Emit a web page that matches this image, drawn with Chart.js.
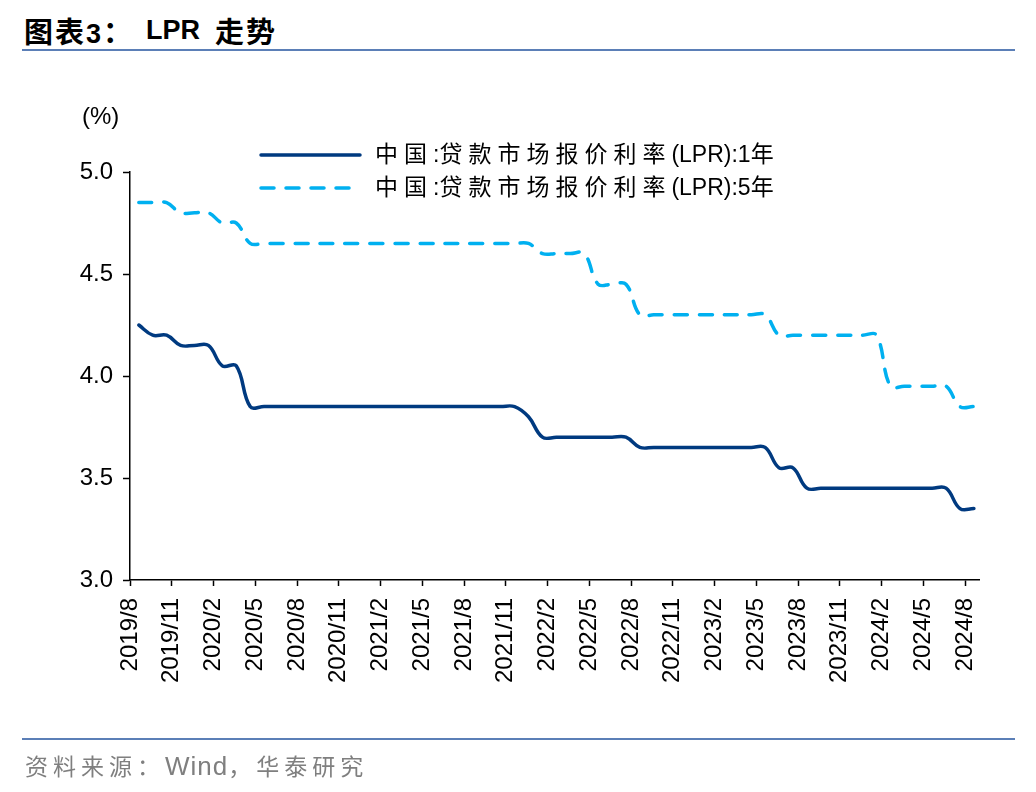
<!DOCTYPE html>
<html><head><meta charset="utf-8">
<script src="https://cdn.jsdelivr.net/npm/chart.js@4.4.1/dist/chart.umd.min.js"></script>
<style>
html,body{margin:0;padding:0;background:#fff;}
#wrap{position:relative;width:1036px;height:792px;overflow:hidden;background:#fff;}
.t{position:absolute;top:11px;font-weight:bold;color:#000;white-space:nowrap;line-height:38px;}
.tc{font-size:29px;font-family:"Noto Sans CJK SC","Liberation Sans";letter-spacing:2px;}
.tl{font-size:27px;font-family:"Liberation Sans",Arial;}
.rule{position:absolute;left:22px;width:993px;height:2px;background:#5B7FB7;}
#footer{position:absolute;left:25px;top:748px;font:23px "Liberation Sans","Noto Sans CJK SC";color:#7f7f7f;white-space:nowrap;}
#footer .cj{letter-spacing:5px;}
#footer .w{font-size:26px;letter-spacing:1px;}
canvas{position:absolute;left:0;top:0;}
</style></head>
<body><div id="wrap">
<div class="t tc" style="left:24px">图表<span class="tl">3</span>：</div>
<div class="t tl" style="left:146px">LPR</div>
<div class="t tc" style="left:215px">走势</div>
<div class="rule" style="top:49px"></div>
<canvas id="c" width="1036" height="792" style="width:1036px;height:792px"></canvas>
<div class="rule" style="top:738px"></div>
<div id="footer"><span class="cj">资料来源：</span><span class="w">Wind</span><span class="cj">，华泰研究</span></div>
</div>
<script>
// Monthly categories (LPR fixing each month)
const months = [
 "2019/8","2019/9","2019/10","2019/11","2019/12",
 "2020/1","2020/2","2020/3","2020/4","2020/5","2020/6","2020/7","2020/8","2020/9","2020/10","2020/11","2020/12",
 "2021/1","2021/2","2021/3","2021/4","2021/5","2021/6","2021/7","2021/8","2021/9","2021/10","2021/11","2021/12",
 "2022/1","2022/2","2022/3","2022/4","2022/5","2022/6","2022/7","2022/8","2022/9","2022/10","2022/11","2022/12",
 "2023/1","2023/2","2023/3","2023/4","2023/5","2023/6","2023/7","2023/8","2023/9","2023/10","2023/11","2023/12",
 "2024/1","2024/2","2024/3","2024/4","2024/5","2024/6","2024/7","2024/8"
];
// 1-year LPR (%)
const lpr1y = [
 4.25,4.20,4.20,4.15,4.15,
 4.15,4.05,4.05,3.85,3.85,3.85,3.85,3.85,3.85,3.85,3.85,3.85,
 3.85,3.85,3.85,3.85,3.85,3.85,3.85,3.85,3.85,3.85,3.85,3.80,
 3.70,3.70,3.70,3.70,3.70,3.70,3.70,3.65,3.65,3.65,3.65,3.65,
 3.65,3.65,3.65,3.65,3.65,3.55,3.55,3.45,3.45,3.45,3.45,3.45,
 3.45,3.45,3.45,3.45,3.45,3.45,3.35,3.35
];
// 5-year LPR (%)
const lpr5y = [
 4.85,4.85,4.85,4.80,4.80,
 4.80,4.75,4.75,4.65,4.65,4.65,4.65,4.65,4.65,4.65,4.65,4.65,
 4.65,4.65,4.65,4.65,4.65,4.65,4.65,4.65,4.65,4.65,4.65,4.65,
 4.60,4.60,4.60,4.60,4.45,4.45,4.45,4.30,4.30,4.30,4.30,4.30,
 4.30,4.30,4.30,4.30,4.30,4.20,4.20,4.20,4.20,4.20,4.20,4.20,
 4.20,3.95,3.95,3.95,3.95,3.95,3.85,3.85
];
const seriesNames = ["中国:贷款市场报价利率(LPR):1年","中国:贷款市场报价利率(LPR):5年"];
const yTicks = [3.0, 3.5, 4.0, 4.5, 5.0];
const releaseDay = 20;           // LPR published around the 20th of each month
const tickEvery = 3;             // x-axis label every 3 months

const dayFrac = (releaseDay - 1) / 30;
const toPts = arr => arr.map((v, i) => ({x: i + dayFrac, y: v}));
const xTickIdx = months.map((m, i) => i).filter(i => i % tickEvery === 0);

const C1 = '#003A80', C2 = '#00B0F0';
const tickFont = {family: '"Liberation Sans", Arial, sans-serif', size: 24};

// draw text where CJK glyphs get extra spacing, Latin glyphs none
function drawMixed(ctx, text, x, y, cjkGap) {
  for (const ch of text) {
    ctx.fillText(ch, x, y);
    const w = ctx.measureText(ch).width;
    x += w + (/[\u3000-\u9fff\uff00-\uffef]/.test(ch) ? cjkGap : 0);
  }
}

const overlay = {
  id: 'overlay',
  afterDraw(chart) {
    const ctx = chart.ctx;
    ctx.save();
    ctx.fillStyle = '#000';
    ctx.font = '24px "Liberation Sans", Arial';
    ctx.textBaseline = 'middle';
    ctx.textAlign = 'left';
    ctx.fillText('(%)', 82, 117);
    const ds = chart.data.datasets;
    ds.forEach((d, i) => {
      const y = 155 + i * 33;
      ctx.beginPath();
      ctx.strokeStyle = d.borderColor;
      ctx.lineWidth = d.borderWidth;
      ctx.lineCap = 'round';
      ctx.setLineDash(d.borderDash || []);
      ctx.moveTo(261, y); ctx.lineTo(360, y);
      ctx.stroke();
      ctx.setLineDash([]);
      ctx.fillStyle = '#000';
      ctx.font = '23px "Liberation Sans", "Noto Sans CJK SC"';
      drawMixed(ctx, d.label, 375, y + 1, 6);
    });
    ctx.restore();
  }
};

new Chart(document.getElementById('c'), {
  type: 'line',
  data: {
    datasets: [
      {label: seriesNames[0], data: toPts(lpr1y), borderColor: C1, backgroundColor: C1,
       borderWidth: 3.5, pointRadius: 0, tension: 0.4, fill: false, borderCapStyle: 'round'},
      {label: seriesNames[1], data: toPts(lpr5y), borderColor: C2, backgroundColor: C2,
       borderWidth: 3.5, pointRadius: 0, tension: 0.4, fill: false, borderDash: [13, 12], borderCapStyle: 'round'}
    ]
  },
  options: {
    responsive: false,
    animation: false,
    devicePixelRatio: 1,
    layout: {padding: {top: 172, right: 57, bottom: 92, left: 0}},
    plugins: {legend: {display: false}, tooltip: {enabled: false}},
    scales: {
      x: {
        type: 'linear', min: 0, max: months.length,
        afterBuildTicks: s => { s.ticks = xTickIdx.map(v => ({value: v})); },
        afterFit: s => { s.height = 120; },
        ticks: {autoSkip: false, minRotation: 90, maxRotation: 90, padding: 12,
                color: '#000', font: tickFont, callback: v => months[v]},
        grid: {drawOnChartArea: false, drawTicks: true, tickLength: 6, tickColor: '#000', tickWidth: 1.5},
        border: {color: '#000', width: 1.5}
      },
      y: {
        min: 3, max: 5,
        afterBuildTicks: s => { s.ticks = yTicks.map(v => ({value: v})); },
        afterFit: s => { s.width = 130; },
        ticks: {padding: 10, color: '#000', font: tickFont, callback: v => v.toFixed(1)},
        grid: {drawOnChartArea: false, drawTicks: true, tickLength: 7, tickColor: '#000', tickWidth: 1.5},
        border: {color: '#000', width: 1.5}
      }
    }
  },
  plugins: [overlay]
});
</script>
</body></html>
